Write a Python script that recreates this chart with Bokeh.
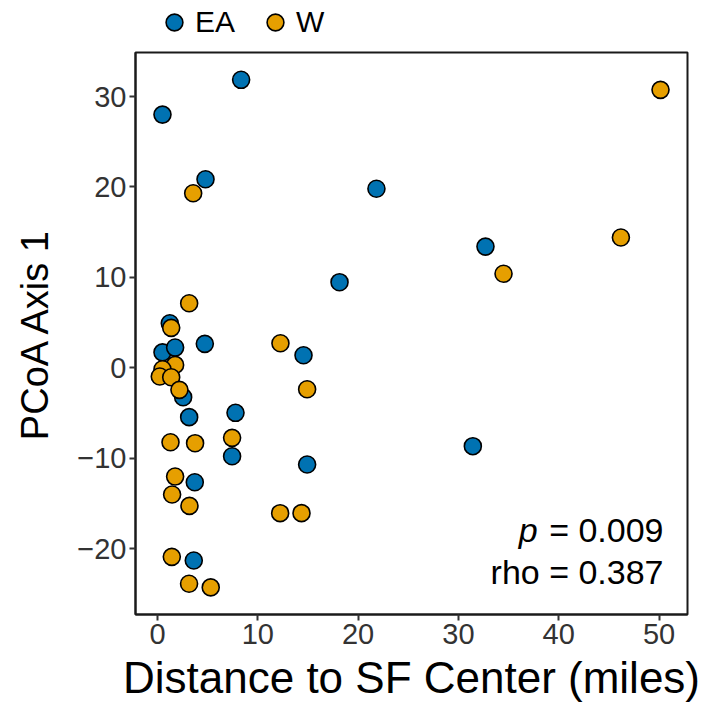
from bokeh.plotting import figure
from bokeh.models import Range1d, Legend, LegendItem, Label, FixedTicker
from bokeh.layouts import column
from bokeh.embed import file_html
from bokeh.resources import INLINE

# EA group (blue)
ea_dist = [0.5, 8.34, 4.79, 21.83, 32.7, 18.15, 1.23, 4.72, 0.5, 1.76, 14.56, 2.56, 3.16, 7.78, 7.44, 31.44, 14.92, 3.72, 3.62]
ea_pcoa = [28.0, 31.85, 20.85, 19.8, 13.4, 9.46, 4.92, 2.64, 1.7, 2.23, 1.38, -3.26, -5.47, -4.99, -9.79, -8.68, -10.71, -12.67, -21.33]

# W group (orange)
w_dist = [50.15, 3.56, 46.2, 34.5, 3.16, 1.37, 12.26, 1.76, 0.5, 0.23, 1.37, 2.19, 14.92, 7.44, 1.3, 3.75, 1.76, 1.46, 3.19, 12.23, 14.36, 1.43, 3.15, 5.31]
w_pcoa = [30.74, 19.3, 14.4, 10.4, 7.13, 4.41, 2.71, 0.31, -0.17, -0.97, -1.05, -2.45, -2.38, -7.76, -8.24, -8.35, -12.04, -14.03, -15.28, -16.09, -16.09, -20.92, -23.9, -24.3]

groups = ["EA", "W"]
colors = ["#0072B2", "#E69F00"]
x_ticks = [0, 10, 20, 30, 40, 50]
y_ticks = [-20, -10, 0, 10, 20, 30]
p_text = "0.009"
rho_text = "0.387"

FONT = "Liberation Sans"
MSIZE = 17
MLW = 1.6

series = [(ea_dist, ea_pcoa), (w_dist, w_pcoa)]

# ---- legend strip on top (same data, kept out of its view; only the legend shows) ----
lg = figure(width=701, height=50, x_range=Range1d(1000, 1001), y_range=Range1d(1000, 1001),
            x_axis_type=None, y_axis_type=None, output_backend="svg", toolbar_location=None,
            min_border=0)
lg.outline_line_color = None
lg.xgrid.visible = False
lg.ygrid.visible = False
lr = [lg.scatter(xs, ys, size=MSIZE, fill_color=c, line_color="black", line_width=MLW)
      for (xs, ys), c in zip(series, colors)]
legend = Legend(items=[LegendItem(label=g, renderers=[r]) for g, r in zip(groups, lr)],
                orientation="horizontal", location=(18, 7))
legend.glyph_width = 42
legend.glyph_height = 42
legend.label_standoff = 0
legend.spacing = 19
legend.padding = 0
legend.margin = 0
legend.border_line_color = None
legend.background_fill_alpha = 0
legend.label_text_font = FONT
legend.label_text_font_size = "30px"
legend.label_text_color = "black"
lg.add_layout(legend, "center")

# ---- main scatter ----
p = figure(frame_width=552, frame_height=562,
           x_range=Range1d(-2.19, 52.84), y_range=Range1d(-27.3, 34.87),
           output_backend="svg", toolbar_location=None,
           min_border_left=135, min_border_right=14, min_border_top=2, min_border_bottom=93)

p.background_fill_color = "white"
p.border_fill_color = "white"
p.outline_line_color = "#1a1a1a"
p.outline_line_width = 2
p.xgrid.visible = False
p.ygrid.visible = False

for ax in (p.xaxis, p.yaxis):
    ax.axis_line_color = "#1a1a1a"
    ax.axis_line_width = 2
    ax.major_tick_line_color = "#333333"
    ax.major_tick_line_width = 2
    ax.major_tick_out = 6
    ax.major_tick_in = 0
    ax.minor_tick_line_color = None
    ax.major_label_text_font = FONT
    ax.major_label_text_font_size = "29px"
    ax.major_label_text_color = "#333333"
    ax.axis_label_text_font = FONT
    ax.axis_label_text_font_style = "normal"
    ax.axis_label_text_color = "black"

p.xaxis.ticker = FixedTicker(ticks=x_ticks)
p.yaxis.ticker = FixedTicker(ticks=y_ticks)
p.yaxis.major_label_overrides = {t: (str(t).replace("-", "\u2212")) for t in y_ticks}
p.xaxis.axis_label = "Distance to SF Center (miles)"
p.yaxis.axis_label = "PCoA Axis 1"
p.xaxis.axis_label_text_font_size = "44px"
p.yaxis.axis_label_text_font_size = "38px"
p.xaxis.major_label_standoff = 3
p.yaxis.major_label_standoff = 3
p.xaxis.axis_label_standoff = 6
p.yaxis.axis_label_standoff = 18

for (xs, ys), c in zip(series, colors):
    p.scatter(xs, ys, size=MSIZE, fill_color=c, line_color="black", line_width=MLW)

ann_x = 50.45
fs = 34
p.add_layout(Label(x=ann_x, y=-22.65, text="rho = " + rho_text, text_align="right",
                   text_baseline="alphabetic", text_font=FONT, text_font_size=f"{fs}px", text_color="black"))
p.add_layout(Label(x=ann_x, y=-17.9, text="= " + p_text, text_align="right",
                   text_baseline="alphabetic", text_font=FONT, text_font_size=f"{fs}px", text_color="black"))
p.add_layout(Label(x=ann_x, y=-17.9, x_offset=-3.70 * fs, text="p", text_align="right",
                   text_baseline="alphabetic", text_font=FONT, text_font_size=f"{fs}px",
                   text_font_style="italic", text_color="black"))

layout = column(lg, p, spacing=0)
open("out.html", "w").write(file_html(layout, INLINE))
